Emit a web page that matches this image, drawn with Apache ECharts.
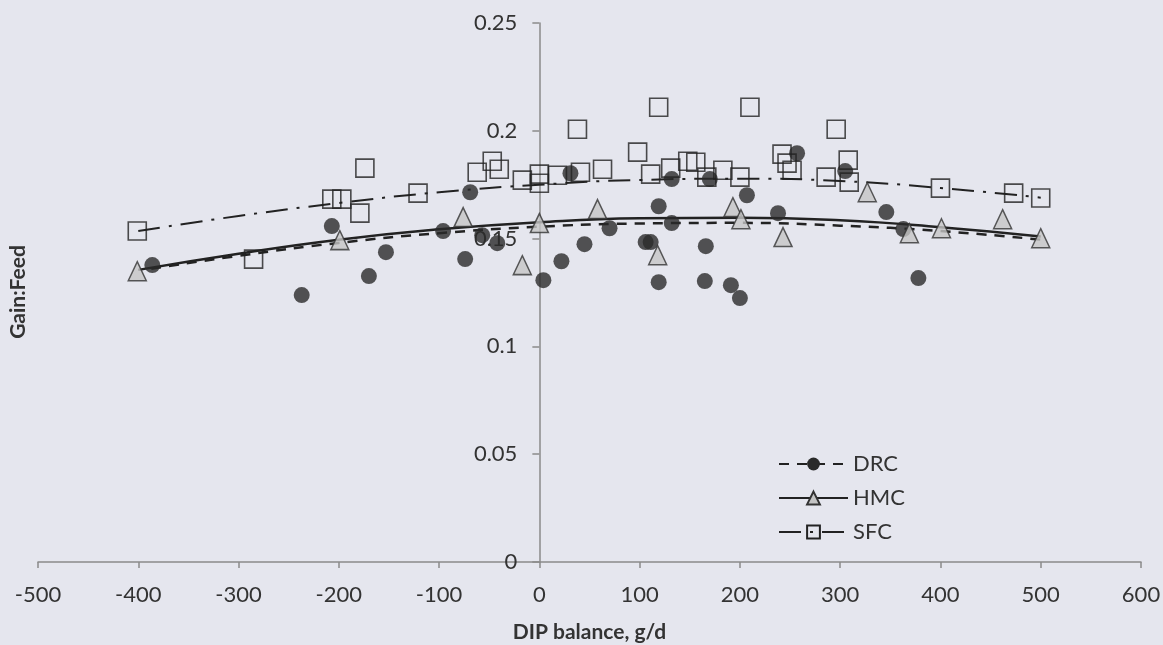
<!DOCTYPE html>
<html><head><meta charset="utf-8">
<script src="https://cdn.jsdelivr.net/npm/echarts@6/dist/echarts.min.js"></script>
<style>html,body{margin:0;padding:0;background:#e5e6ee;}#c{width:1163px;height:645px;}</style>
</head><body><div id="c"></div>
<script>
// DRC observations
const drcX = [-386,-237,-207,-170,-153,-96,-74,-69,-57,-42,4,22,31,45,70,106,111,119,119,132,132,165,166,170,191,200,207,238,257,305,346,363,378];
const drcY = [0.1377,0.1238,0.1558,0.1326,0.1437,0.1535,0.1405,0.1715,0.1516,0.1479,0.1307,0.1395,0.1803,0.1474,0.1548,0.1484,0.1484,0.165,0.1298,0.1776,0.1572,0.1303,0.1465,0.1776,0.1284,0.1224,0.1701,0.1618,0.1896,0.1813,0.1623,0.1544,0.1317];
// HMC observations
const hmcX = [-401,-199,-76,-17,0,58,118,193,201,243,327,369,401,462,500];
const hmcY = [0.1349,0.1493,0.160,0.1377,0.1572,0.1637,0.1423,0.1646,0.159,0.1507,0.1715,0.1525,0.1548,0.159,0.1502];
// SFC observations
const sfcX = [-401,-285,-207,-197,-179,-174,-121,-62,-47,-40,-17,0,0,18,38,41,63,98,111,119,131,148,156,167,183,200,210,242,247,252,286,296,308,309,400,473,500];
const sfcY = [0.1535,0.1405,0.1683,0.1683,0.1618,0.1827,0.1711,0.1808,0.1859,0.1822,0.1771,0.1799,0.1757,0.1794,0.2007,0.1808,0.1822,0.1901,0.1799,0.2109,0.1827,0.1859,0.1854,0.1785,0.1817,0.1785,0.2109,0.1892,0.185,0.1817,0.1785,0.2007,0.1864,0.1762,0.1734,0.1711,0.1688];
// Trend lines
const drcTrendX = [-387,-300,-200,-100,0,100,200,300,400,500];
const drcTrendY = [0.136,0.142,0.148,0.1525,0.1555,0.157,0.1573,0.156,0.1535,0.1495];
const hmcTrendX = [-400,-300,-200,-100,0,100,200,300,400,500];
const hmcTrendY = [0.1355,0.143,0.1495,0.1543,0.1576,0.1594,0.1597,0.1585,0.1553,0.151];
const sfcTrendX = [-400,-300,-200,-100,0,100,200,300,400,500];
const sfcTrendY = [0.1535,0.1605,0.1665,0.1715,0.175,0.1772,0.1778,0.1767,0.1735,0.169];
// Axis
const xTicks = {min:-500, max:600, step:100};
const yTicks = {min:0, max:0.25, step:0.05};
const seriesNames = ['DRC','HMC','SFC'];

const zip = (a,b) => a.map((v,i)=>[v,b[i]]);
const FONT = 'Lato';
const axisCol = '#8a8a8a';
const G = {left:38, right:22, top:23, bottom:83};
const gridW = 1163 - G.left - G.right;
// shift the y axis so that it crosses the x axis at x = 0
const yOffset = -((0 - xTicks.min) / (xTicks.max - xTicks.min)) * gridW;

const chart = echarts.init(document.getElementById('c'), null, {renderer:'canvas'});
chart.setOption({
  backgroundColor:'#e5e6ee',
  animation:false,
  grid:{left:G.left,right:G.right,top:G.top,bottom:G.bottom,containLabel:false,outerBoundsMode:'none'},
  xAxis:{
    type:'value', min:xTicks.min, max:xTicks.max, interval:xTicks.step,
    axisLine:{show:true,onZero:false,lineStyle:{color:axisCol,width:1.5}},
    axisTick:{show:true,length:6,lineStyle:{color:axisCol,width:1.5}},
    axisLabel:{margin:22,fontFamily:FONT,fontSize:22,color:'#333'},
    splitLine:{show:false},
    name:'DIP balance, g/d', nameLocation:'middle', nameGap:60,
    nameTextStyle:{fontFamily:FONT,fontWeight:'bold',fontSize:21,color:'#333'}
  },
  yAxis:{
    type:'value', min:yTicks.min, max:yTicks.max, interval:yTicks.step,
    position:'left', offset:yOffset,
    axisLine:{show:true,onZero:false,lineStyle:{color:axisCol,width:1.5}},
    axisTick:{show:true,length:7,lineStyle:{color:axisCol,width:1.5}},
    axisLabel:{margin:22,fontFamily:FONT,fontSize:22,color:'#333'},
    splitLine:{show:false}
  },
  legend:{
    orient:'vertical', left:773, top:448, itemWidth:69, itemHeight:16, itemGap:12,
    selectedMode:false, data:seriesNames,
    textStyle:{fontFamily:FONT,fontSize:22,color:'#333'}
  },
  graphic:[{
    type:'text', x:18, y:292, rotation:Math.PI/2,
    style:{text:'Gain:Feed', font:'bold 21px Lato', fill:'#333', textAlign:'center', textVerticalAlign:'middle'}
  }],
  series:[
    {name:seriesNames[0], type:'line', data:zip(drcTrendX,drcTrendY), smooth:true, showSymbol:false, symbol:'circle', symbolSize:13,
     itemStyle:{color:'#2a2a2a'}, lineStyle:{color:'#222',width:2.5,type:[10,8]}, z:2, silent:true},
    {name:seriesNames[1], type:'line', data:zip(hmcTrendX,hmcTrendY), smooth:true, showSymbol:false, symbol:'triangle', symbolSize:13,
     itemStyle:{color:'#c4c4c4',borderColor:'#333',borderWidth:1.5}, lineStyle:{color:'#222',width:2.5,type:'solid'}, z:2, silent:true},
    {name:seriesNames[2], type:'line', data:zip(sfcTrendX,sfcTrendY), smooth:true, showSymbol:false, symbol:'rect', symbolSize:13,
     itemStyle:{color:'rgba(0,0,0,0)',borderColor:'#222',borderWidth:1.5}, lineStyle:{color:'#222',width:2,type:[22,9,3,9]}, z:2, silent:true},
    {name:'DRC points', type:'scatter', data:zip(drcX,drcY), symbol:'circle', symbolSize:16,
     itemStyle:{color:'#2b2b2b'}, z:3, silent:true},
    {name:'HMC points', type:'scatter', data:zip(hmcX,hmcY), symbol:'triangle', symbolSize:[18,19],
     itemStyle:{color:'#c6c6c6',borderColor:'#333',borderWidth:1.5}, z:3, silent:true},
    {name:'SFC points', type:'scatter', data:zip(sfcX,sfcY), symbol:'rect', symbolSize:18,
     itemStyle:{color:'rgba(0,0,0,0)',borderColor:'#222',borderWidth:1.6}, z:3, silent:true}
  ]
});
</script></body></html>
